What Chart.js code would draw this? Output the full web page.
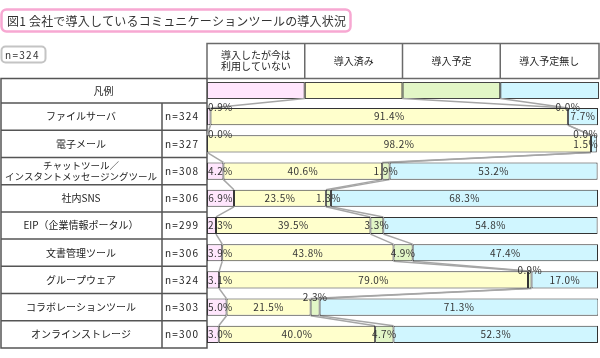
<!DOCTYPE html>
<html lang="ja">
<head>
<meta charset="utf-8">
<script src="https://cdn.jsdelivr.net/npm/chart.js@4.4.1/dist/chart.umd.min.js"></script>
<style>
  body { margin: 0; background: #fff; }
  canvas { display: block; }
</style>
</head>
<body>
<canvas id="chart" width="600" height="358"></canvas>
<script>
const titleText = '図1 会社で導入しているコミュニケーションツールの導入状況';
const totalN = 'n=324';
const legendHeader = '凡例';
const categories = [
    'ファイルサーバ',
    '電子メール',
    ['チャットツール／', 'インスタントメッセージングツール'],
    '社内SNS',
    'EIP（企業情報ポータル）',
    '文書管理ツール',
    'グループウェア',
    'コラボレーションツール',
    'オンラインストレージ'
];
const sampleSizes = [324, 327, 308, 306, 299, 306, 324, 303, 300];
const seriesNames = [['導入したが今は', '利用していない'], '導入済み', '導入予定', '導入予定無し'];

const stoppedUsing = [0.9, 0.0, 4.2, 6.9, 2.3, 3.9, 3.1, 5.0, 3.0];
const introduced   = [91.4, 98.2, 40.6, 23.5, 39.5, 43.8, 79.0, 21.5, 40.0];
const planned      = [0.0, 0.0, 1.9, 1.3, 3.3, 4.9, 0.9, 2.3, 4.7];
const notPlanned   = [7.7, 1.5, 53.2, 68.3, 54.8, 47.4, 17.0, 71.3, 52.3];

const seriesColors = ['#ffe6fd', '#ffffcc', '#e2f6c6', '#d0f6ff'];
const FONT = '"Noto Sans CJK JP", "Noto Sans", sans-serif';

// labels that sit on the top edge of the bar instead of inside it ([row, series])
const labelsAbove = [[0, 0], [0, 2], [1, 0], [1, 2], [6, 2], [7, 2]];

const allSeries = [stoppedUsing, introduced, planned, notPlanned];

function cumulative(row, upTo) {
    let sum = 0;
    for (let s = 0; s < upTo; s++) sum += allSeries[s][row];
    return sum;
}

function setSpacing(ctx, v) {
    if ('letterSpacing' in ctx) ctx.letterSpacing = v;
}

const tablePlugin = {
    id: 'tableFrame',
    beforeDraw(chart) {
        const ctx = chart.ctx;
        const area = chart.chartArea;
        const xs = chart.scales.x;
        const ys = chart.scales.y;
        const rowH = (area.bottom - area.top) / categories.length;

        ctx.save();
        ctx.fillStyle = '#fff';
        ctx.fillRect(0, 0, chart.width, chart.height);

        // title box
        ctx.beginPath();
        ctx.roundRect(1.5, 9.5, 349, 22, 5);
        ctx.fillStyle = '#fff';
        ctx.fill();
        ctx.lineWidth = 2.5;
        ctx.strokeStyle = '#f7a8d2';
        ctx.stroke();
        ctx.fillStyle = '#333';
        ctx.font = '12px ' + FONT;
        ctx.textBaseline = 'middle';
        ctx.textAlign = 'left';
        setSpacing(ctx, '0.2px');
        ctx.fillText(titleText, 7, 21);
        setSpacing(ctx, '0px');

        // n box
        ctx.beginPath();
        ctx.roundRect(1.5, 46.5, 44, 16, 4);
        ctx.lineWidth = 2;
        ctx.strokeStyle = '#c4c4c4';
        ctx.stroke();
        ctx.font = '10px ' + FONT;
        setSpacing(ctx, '1.3px');
        ctx.fillStyle = '#333';
        ctx.fillText(totalN, 5, 55);
        setSpacing(ctx, '0px');

        // header box
        const hTop = 43.5, hBottom = 78.5;
        ctx.lineWidth = 1.5;
        ctx.strokeStyle = '#6a6a6a';
        ctx.strokeRect(area.left, hTop, area.right + 1 - area.left, hBottom - hTop);
        ctx.textAlign = 'center';
        ctx.font = '10px ' + FONT;
        ctx.fillStyle = '#222';
        for (let s = 0; s < 4; s++) {
            const x0 = xs.getPixelForValue(s * 25);
            const x1 = xs.getPixelForValue((s + 1) * 25);
            if (s > 0) {
                ctx.beginPath();
                ctx.moveTo(x0, hTop);
                ctx.lineTo(x0, hBottom);
                ctx.stroke();
            }
            const name = seriesNames[s];
            const cx = (x0 + x1) / 2;
            if (Array.isArray(name)) {
                ctx.fillText(name[0], cx, 55);
                ctx.fillText(name[1], cx, 66);
            } else {
                ctx.fillText(name, cx, 61);
            }
        }

        // legend row
        for (let s = 0; s < 4; s++) {
            const x0 = xs.getPixelForValue(s * 25);
            const x1 = s === 3 ? area.right + 1 : xs.getPixelForValue((s + 1) * 25);
            ctx.fillStyle = seriesColors[s];
            ctx.fillRect(x0, 82.5, x1 - x0, 16);
            ctx.lineWidth = 1;
            ctx.strokeStyle = '#444';
            ctx.strokeRect(x0 + 0.5, 82.5, x1 - x0 - 1, 16);
        }

        // left table
        ctx.lineWidth = 1.5;
        ctx.strokeStyle = '#555';
        ctx.strokeRect(1, hBottom, area.left - 1, area.bottom - hBottom);
        for (let i = 0; i < categories.length; i++) {
            const top = ys.getPixelForValue(i) - rowH / 2;
            ctx.beginPath();
            ctx.moveTo(1, top);
            ctx.lineTo(area.left, top);
            ctx.stroke();
        }
        ctx.beginPath();
        ctx.moveTo(162, area.top);
        ctx.lineTo(162, area.bottom);
        ctx.stroke();

        ctx.fillStyle = '#222';
        ctx.font = '10px ' + FONT;
        ctx.fillText(legendHeader, area.left / 2, 91);
        for (let i = 0; i < categories.length; i++) {
            const cy = ys.getPixelForValue(i);
            const label = categories[i];
            ctx.textAlign = 'center';
            if (Array.isArray(label)) {
                ctx.font = '9.5px ' + FONT;
                ctx.fillText(label[0], 81, cy - 6);
                ctx.fillText(label[1], 81, cy + 5);
                ctx.font = '10px ' + FONT;
            } else {
                ctx.fillText(label, 81, cy);
            }
            ctx.textAlign = 'left';
            setSpacing(ctx, '1.2px');
            ctx.fillText('n=' + sampleSizes[i], 165, cy);
            setSpacing(ctx, '0px');
        }
        ctx.restore();
    },
    beforeDatasetsDraw(chart) {
        // series lines between bars
        const ctx = chart.ctx;
        const xs = chart.scales.x;
        const meta = chart.getDatasetMeta(0);
        ctx.save();
        ctx.lineWidth = 1.5;
        ctx.strokeStyle = '#a6a6a6';
        const first = meta.data[0];
        for (let k = 1; k < 4; k++) {
            ctx.beginPath();
            ctx.moveTo(xs.getPixelForValue(k * 25), 98.5);
            ctx.lineTo(xs.getPixelForValue(cumulative(0, k)), first.y - first.height / 2);
            ctx.stroke();
        }
        for (let i = 0; i < categories.length - 1; i++) {
            const a = meta.data[i];
            const b = meta.data[i + 1];
            for (let k = 1; k < 4; k++) {
                ctx.beginPath();
                ctx.moveTo(xs.getPixelForValue(cumulative(i, k)), a.y + a.height / 2);
                ctx.lineTo(xs.getPixelForValue(cumulative(i + 1, k)), b.y - b.height / 2);
                ctx.stroke();
            }
        }
        ctx.restore();
    },
    afterDatasetsDraw(chart) {
        const ctx = chart.ctx;
        const area = chart.chartArea;
        const xs = chart.scales.x;
        ctx.save();
        ctx.font = '10px ' + FONT;
        setSpacing(ctx, '0.4px');
        ctx.fillStyle = '#333';
        ctx.textBaseline = 'middle';
        ctx.textAlign = 'center';
        allSeries.forEach((series, s) => {
            const meta = chart.getDatasetMeta(s);
            series.forEach((v, i) => {
                const el = meta.data[i];
                const text = v.toFixed(1) + '%';
                const w = ctx.measureText(text).width;
                let cx = xs.getPixelForValue(cumulative(i, s) + v / 2);
                cx = Math.max(area.left + 1 + w / 2, Math.min(area.right - w / 2, cx));
                const above = labelsAbove.some(p => p[0] === i && p[1] === s);
                const cy = above ? el.y - el.height / 2 - 1 : el.y;
                ctx.fillText(text, cx, cy);
            });
        });
        ctx.restore();
    }
};

Chart.defaults.font.family = FONT;

new Chart(document.getElementById('chart').getContext('2d'), {
    type: 'bar',
    data: {
        labels: categories,
        datasets: allSeries.map((series, s) => ({
            label: Array.isArray(seriesNames[s]) ? seriesNames[s].join('') : seriesNames[s],
            data: series,
            backgroundColor: seriesColors[s],
            borderColor: '#333',
            borderWidth: 1,
            borderSkipped: false,
            barPercentage: 0.63,
            categoryPercentage: 1
        }))
    },
    options: {
        indexAxis: 'y',
        responsive: false,
        devicePixelRatio: 1,
        animation: false,
        layout: { padding: { left: 207, right: 2, top: 103, bottom: 10 } },
        scales: {
            x: { stacked: true, min: 0, max: 100, display: false },
            y: { stacked: true, display: false }
        },
        plugins: {
            legend: { display: false },
            tooltip: { enabled: false }
        }
    },
    plugins: [tablePlugin]
});
</script>
</body>
</html>
